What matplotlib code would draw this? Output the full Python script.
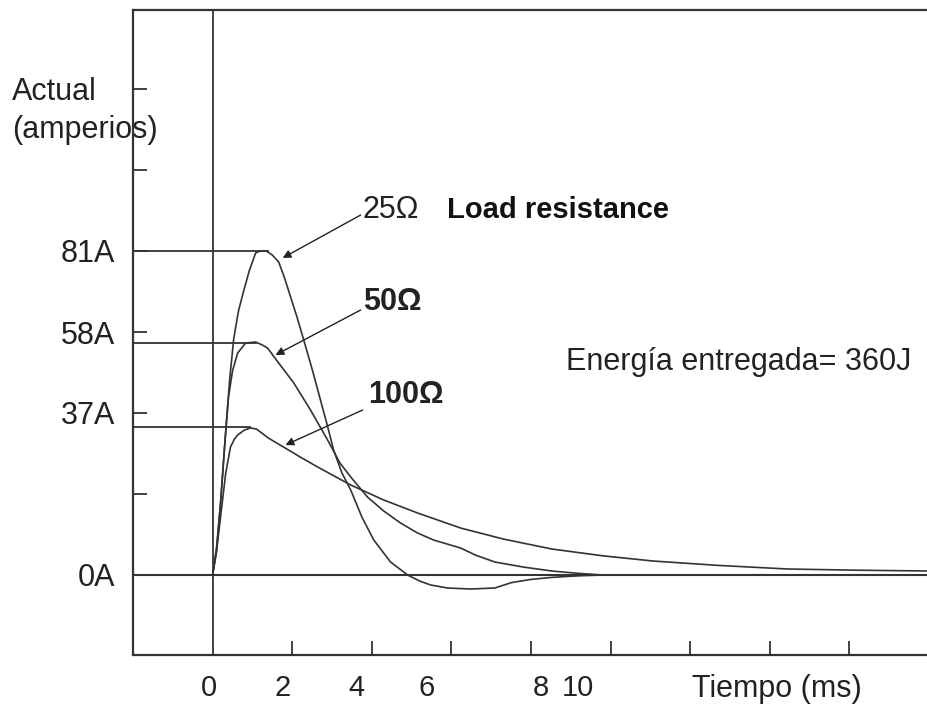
import matplotlib
matplotlib.use("Agg")
from matplotlib import pyplot as plt
from matplotlib.ticker import FixedLocator

plt.rcParams['font.family'] = ['Liberation Sans', 'DejaVu Sans']

# current pulses (time in ms, current in A)
t_25 = [0, 0.1, 0.2, 0.33, 0.43, 0.53, 0.65, 0.78, 0.92, 1.08, 1.2, 1.35, 1.5, 1.66,
        1.8, 1.96, 2.12, 2.29, 2.5, 2.71, 2.88, 3.04, 3.25, 3.47, 3.75, 4.05, 4.47,
        4.90, 5.2, 5.48, 5.9, 6.48, 7.09, 7.51, 8.0, 8.52, 9.2, 9.8, 18.0]
i_25 = [0, 6, 18, 36, 49, 59, 66, 71, 76, 80.5, 81, 81, 80, 78.25,
        74.5, 69.5, 64.5, 58.75, 51.5, 43.75, 37.5, 31.25, 25.5, 21.25, 14.5, 8.75, 3.25,
        0, -1.5, -2.5, -3.25, -3.5, -3.25, -1.9, -1.1, -0.6, -0.2, 0, 0]

t_50 = [0, 0.1, 0.2, 0.3, 0.4, 0.5, 0.63, 0.83, 1.08, 1.25, 1.38, 1.66, 2.04, 2.46,
        2.89, 3.2, 3.47, 3.89, 4.3, 4.72, 5.15, 5.55, 6.23, 6.6, 7.09, 7.8, 8.52, 9.2,
        9.8, 18.0]
i_50 = [0, 7, 18, 32, 44.5, 51, 55.5, 58, 58.25, 57.5, 56.75, 53, 48, 41.25,
        33.75, 28, 24.5, 19.5, 16, 13, 10.5, 8.75, 6.75, 5, 3.25, 2, 1, 0.4,
        0, 0]

t_100 = [0, 0.1, 0.2, 0.33, 0.45, 0.55, 0.63, 0.8, 0.95, 1.1, 1.4, 1.78, 2.2, 2.64,
         3.47, 4.3, 5.15, 6.23, 7.3, 8.52, 9.8, 11.06, 12.7, 14.45, 16.2, 18.0]
i_100 = [0, 6, 14.5, 25.5, 32, 34, 35, 36.25, 36.75, 36.5, 34.25, 32, 29.5, 27,
         22.5, 18.75, 15.5, 11.75, 9, 6.5, 4.8, 3.5, 2.4, 1.5, 1.2, 1.0]

peak_values = [81, 58, 37]
peak_times = [1.4, 1.08, 0.95]

y_tick_values = [0, 20.25, 40.5, 60.75, 81, 101.25, 121.5]
y_tick_labels = ['0A', '', '37A', '58A', '81A', '', '']
x_tick_marks = [2, 4, 6, 8, 10, 12, 14, 16]
x_label_pos = [-0.08, 1.76, 3.62, 5.38, 8.24, 9.17]
x_label_text = ['0', '2', '4', '6', '8', '10']

INK = '#333333'
TEXT = '#222222'
FS = 22
LW = 1.2

fig = plt.figure(figsize=(9.27, 7.08), dpi=100)
ax = fig.add_axes([133 / 927, 53 / 708, 796 / 927, 645 / 708])
ax.set_xlim(-2, 18)
ax.set_ylim(-20, 141.25)

for t, i in [(t_25, i_25), (t_50, i_50), (t_100, i_100)]:
    ax.plot(t, i, color=INK, linewidth=LW)

ax.axhline(0, color=INK, linewidth=1.5)
ax.axvline(0, color=INK, linewidth=1.3)
for v, tp in zip(peak_values, peak_times):
    ax.plot([-2, tp], [v, v], color=INK, linewidth=1.3)

for side in ['left', 'bottom', 'top']:
    ax.spines[side].set_linewidth(1.6)
    ax.spines[side].set_color(INK)
ax.spines['right'].set_visible(False)

ax.set_yticks(y_tick_values)
ax.set_yticklabels(y_tick_labels, fontsize=FS, color=TEXT)
ax.tick_params(axis='y', direction='in', length=10, width=1.3, color=INK, pad=13)

ax.set_xticks(x_label_pos)
ax.set_xticklabels(x_label_text, fontsize=21, color=TEXT)
ax.tick_params(axis='x', which='major', length=0, pad=14)
ax.xaxis.set_minor_locator(FixedLocator(x_tick_marks))
ax.tick_params(axis='x', which='minor', direction='in', length=10, width=1.3, color=INK)

ax.annotate('Tiempo (ms)', xy=(14.17, -0.053), xycoords=('data', 'axes fraction'),
            ha='center', va='center', fontsize=FS, color=TEXT)

fig.text(12 / 927, 1 - 92 / 708, 'Actual', fontsize=FS, ha='left', va='center', color=TEXT)
fig.text(12 / 927, 1 - 130 / 708, '(amperios)', fontsize=FS, ha='left', va='center', color=TEXT)

arrow = dict(arrowstyle='-|>', color=TEXT, lw=1.0, mutation_scale=12, shrinkA=0, shrinkB=0)
ax.annotate('', xy=(1.76, 79.25), xytext=(3.72, 90), arrowprops=arrow)
ax.annotate('25Ω', xy=(3.77, 91.25), ha='left', va='center', fontsize=FS, color=TEXT)
ax.annotate('Load resistance', xy=(5.90, 91.25), ha='left', va='center', fontsize=21,
            fontweight='bold', color='#111111')
ax.annotate('', xy=(1.58, 55), xytext=(3.72, 66.25), arrowprops=arrow)
ax.annotate('50Ω', xy=(3.77, 68.25), ha='left', va='center', fontsize=FS,
            fontweight='bold', color=TEXT)
ax.annotate('', xy=(1.83, 32.5), xytext=(3.77, 41.25), arrowprops=arrow)
ax.annotate('100Ω', xy=(3.92, 45), ha='left', va='center', fontsize=FS,
            fontweight='bold', color=TEXT)

ax.annotate('Energía entregada= 360J', xy=(8.87, 53.25), ha='left', va='center',
            fontsize=FS, color=TEXT)

fig.savefig('out.png', dpi=100)
